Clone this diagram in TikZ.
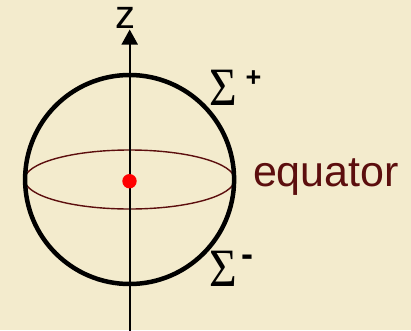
\documentclass[tikz,border=0pt]{standalone}
\usepackage{fontspec}
\setmainfont{Liberation Sans}
\newfontfamily\sigfont{Liberation Serif}
\usetikzlibrary{arrows.meta}
\definecolor{bgbeige}{HTML}{F3EBCD}
\definecolor{eqmaroon}{HTML}{5C0E0E}
\definecolor{dotred}{HTML}{FF0000}
\tikzset{
  lbl/.style={inner sep=0pt, outer sep=0pt},
  sigma/.style={lbl, anchor=base west, font=\sigfont\fontsize{54}{54}\selectfont},
}
\begin{document}
\begin{tikzpicture}[x=1pt,y=-1pt]
\fill[bgbeige] (0,0) rectangle (411,330);
\useasboundingbox (0,0) rectangle (411,330);
\coordinate (O) at (129.6,179.5);
\coordinate (axtop) at (129.7,29.5);
\coordinate (axbot) at (129.7,332);
\draw[eqmaroon, line width=1.4pt] (O) ellipse [x radius=105, y radius=29.5];
\draw[line width=2pt, -{Triangle[length=15pt,width=16pt]}] (axbot) -- (axtop);
\draw[line width=4.5pt] (O) circle [radius=104.5];
\node[circle, fill=dotred, minimum size=14.4pt, inner sep=0pt] (dot) at (129.5,181.2) {};
\node[lbl, anchor=base, text height=21pt, text depth=0pt, font=\fontsize{40}{40}\selectfont] (z) at (125,28.5) {z};
\node[lbl, anchor=base west, text=eqmaroon, font=\fontsize{43}{43}\selectfont] (eq) at (253,186) {equator};
\node[sigma] (sigp) at (209.5,105) {\scalebox{0.88}[1]{Σ}};
\node[lbl, font=\bfseries\fontsize{27}{27}\selectfont] (plus) at (253.5,79) {+};
\node[sigma] (sigm) at (209.5,286) {\scalebox{0.88}[1]{Σ}};
\node[lbl, font=\bfseries\fontsize{36}{36}\selectfont] (minus) at (247,261) {-};
\end{tikzpicture}
\end{document}
